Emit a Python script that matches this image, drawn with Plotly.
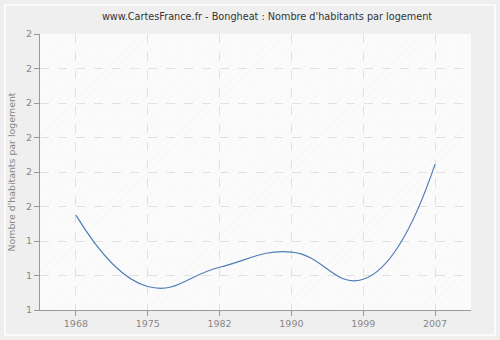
import plotly.graph_objects as go

# Census years and average number of inhabitants per dwelling
years = ["1968", "1975", "1982", "1990", "1999", "2007"]
habitants_par_logement = [1.475, 1.268, 1.324, 1.368, 1.289, 1.623]

# Y-axis ticks (labels are rounded to whole numbers)
y_tick0 = 1.2
y_dtick = 0.1
y_range = [1.2, 2.0]

fig = go.Figure()

# Translucent hatching over the plot background, one full-height column per category
fig.add_trace(go.Bar(
    x=years,
    y=[y_range[1] - y_range[0]] * len(years),
    base=y_range[0],
    width=1.0,
    marker=dict(
        color="rgba(0,0,0,0)",
        line=dict(width=0),
        pattern=dict(shape="/", fgcolor="rgba(0,0,0,0.045)",
                     bgcolor="rgba(0,0,0,0)", size=6, solidity=0.15),
    ),
    hoverinfo="skip",
    showlegend=False,
))

fig.add_trace(go.Scatter(
    x=years,
    y=habitants_par_logement,
    mode="lines",
    line=dict(color="#4f7db5", width=1.2, shape="spline", smoothing=1.3),
    hoverinfo="x+y",
    showlegend=False,
))

grid = "#e2e2e2"
axis_col = "#999999"
tick_font = dict(family="DejaVu Sans", size=9.5, color="#888888")

fig.update_layout(
    width=500,
    height=340,
    margin=dict(l=40, r=29, t=34, b=30),
    paper_bgcolor="#efefef",
    plot_bgcolor="#fbfbfb",
    bargap=0,
    title=dict(
        text="www.CartesFrance.fr - Bongheat : Nombre d'habitants par logement",
        x=(40 + 227) / 500, xanchor="center",
        y=1 - 17 / 340, yanchor="middle",
        font=dict(family="DejaVu Sans", size=9.7, color="#333333"),
    ),
    xaxis=dict(
        type="category",
        range=[-0.5, 5.5],
        showgrid=True, gridcolor=grid, griddash="dash", gridwidth=1,
        showline=True, linecolor=axis_col, linewidth=1,
        ticks="outside", ticklen=5, tickcolor=axis_col,
        tickfont=tick_font,
        zeroline=False,
    ),
    yaxis=dict(
        range=y_range,
        tick0=y_tick0, dtick=y_dtick, tickformat=".0f",
        showgrid=True, gridcolor=grid, griddash="dash", gridwidth=1,
        showline=True, linecolor=axis_col, linewidth=1,
        ticks="outside", ticklen=5, tickcolor=axis_col,
        tickfont=tick_font,
        zeroline=False,
        title=dict(text="Nombre d'habitants par logement",
                   font=dict(family="DejaVu Sans", size=9.4, color="#888888"),
                   standoff=8),
    ),
    shapes=[
        dict(type="rect", xref="paper", yref="paper", layer="below",
             x0=-35 / 431, x1=1 + 24 / 431, y0=-25 / 276, y1=1 + 29 / 276,
             line=dict(color="#ffffff", width=1.5), fillcolor="rgba(0,0,0,0)"),
    ],
)

fig.write_html("out.html")
